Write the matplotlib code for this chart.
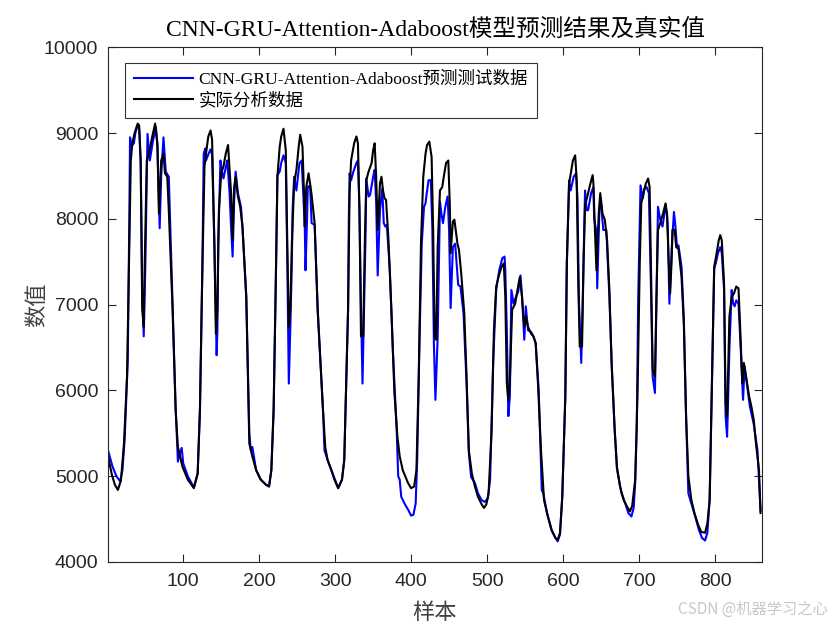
import matplotlib
matplotlib.use("Agg")
from matplotlib import pyplot as plt

# 实际分析数据 (black)
true_x = [1, 6, 10, 14, 18, 22, 26, 29, 31, 33, 36, 40, 42, 44, 46, 48, 49, 52, 55, 59, 63, 66, 68, 71, 74, 76, 79, 81,
          86, 90, 93, 99, 106, 114, 119, 122, 125, 128, 130, 133, 136, 138, 141, 143, 145, 147, 150, 153, 156, 159,
          163, 165, 167, 169, 172, 175, 178, 183, 187, 191, 196, 202, 209, 213, 216, 219, 222, 224, 227, 229, 232,
          235, 237, 239, 241, 243, 246, 249, 252, 254, 257, 259, 260, 262, 265, 267, 269, 273, 277, 284, 287, 290,
          295, 299, 304, 309, 312, 317, 319, 321, 325, 328, 330, 332, 334, 337, 339, 341, 344, 348, 350, 352, 354,
          356, 359, 361, 363, 365, 367, 370, 374, 378, 382, 385, 389, 396, 400, 404, 407, 410, 413, 416, 419, 421,
          424, 427, 429, 431, 433, 435, 438, 441, 443, 446, 449, 451, 452, 455, 457, 461, 463, 466, 470, 473, 476,
          480, 484, 488, 493, 496, 499, 502, 506, 509, 512, 515, 519, 522, 524, 526, 528, 530, 533, 537, 540, 543,
          546, 549, 551, 554, 558, 561, 564, 567, 571, 575, 580, 585, 590, 593, 596, 599, 603, 605, 608, 611, 613,
          616, 618, 620, 622, 625, 627, 629, 632, 636, 639, 640, 642, 644, 647, 649, 652, 655, 658, 661, 664, 668,
          671, 675, 680, 684, 688, 691, 695, 698, 701, 703, 706, 709, 712, 714, 716, 718, 721, 723, 725, 728, 731,
          735, 737, 739, 741, 743, 744, 747, 749, 752, 756, 759, 762, 765, 769, 773, 778, 782, 787, 790, 793, 796,
          799, 803, 805, 807, 809, 812, 814, 816, 819, 822, 825, 828, 831, 833, 836, 838, 841, 845, 848, 851, 854,
          858, 860]
true_y = [5230, 5020, 4900, 4840, 4950, 5380, 6160, 7710, 8680, 8880, 9000, 9110, 9090, 8680, 6940, 6740, 7330, 8680,
          8760, 8950, 9110, 8880, 8060, 8680, 8760, 8530, 8490, 8100, 6940, 5770, 5340, 5110, 4960, 4860, 5030, 5770,
          7330, 8610, 8760, 8960, 9030, 8920, 7710, 6660, 6940, 8100, 8530, 8610, 8760, 8860, 8300, 7750, 8370, 8490,
          8260, 8140, 7910, 7090, 5380, 5230, 5070, 4960, 4900, 4880, 5070, 5770, 7330, 8490, 8840, 8960, 9050, 8800,
          7710, 6740, 6940, 7710, 8410, 8570, 8840, 8980, 8840, 8300, 7910, 8370, 8530, 8410, 8280, 7950, 6940, 5770,
          5340, 5190, 5070, 4960, 4860, 4960, 5190, 6940, 8300, 8680, 8880, 8960, 8880, 8100, 6630, 6630, 7710, 8450,
          8550, 8650, 8800, 8880, 8490, 7870, 8410, 8490, 8330, 8240, 8220, 7790, 6940, 5970, 5460, 5230, 5070, 4920,
          4860, 4880, 5070, 6160, 7710, 8490, 8760, 8860, 8900, 8720, 7870, 6630, 6590, 7670, 8330, 8370, 8490, 8650,
          8680, 8140, 7600, 7970, 7990, 7710, 7640, 7360, 6900, 6160, 5300, 5030, 4880, 4760, 4670, 4630, 4670, 4800,
          5540, 6700, 7210, 7320, 7440, 7480, 7100, 6080, 5880, 6120, 6940, 7010, 7170, 7320, 7090, 6740, 6860, 6740,
          6660, 6630, 6550, 6080, 5300, 4720, 4530, 4370, 4280, 4260, 4340, 4760, 5930, 7480, 8410, 8570, 8680, 8740,
          8450, 7290, 6510, 6510, 7480, 8160, 8260, 8410, 8510, 8410, 7870, 7400, 8060, 8300, 8060, 7990, 7750, 7170,
          6320, 5540, 5110, 4880, 4720, 4650, 4590, 4650, 4960, 5930, 7480, 8180, 8300, 8410, 8470, 8370, 7290, 6240,
          6160, 7090, 7870, 7950, 8040, 8180, 8020, 7520, 7130, 7520, 7870, 7870, 7670, 7650, 7320, 6780, 5690, 5000,
          4720, 4570, 4430, 4350, 4340, 4450, 4720, 6080, 7440, 7640, 7750, 7810, 7750, 7250, 5850, 5690, 6860, 7090,
          7130, 7210, 7190, 6780, 6080, 6320, 6160, 5930, 5810, 5660, 5380, 5070, 4570]

# CNN-GRU-Attention-Adaboost预测测试数据 (blue)
pred_x = [1, 7, 12, 17, 20, 23, 27, 29, 30, 32, 35, 37, 40, 42, 44, 46, 48, 50, 53, 56, 60, 64, 66, 69, 71, 74, 77, 79,
          81, 86, 90, 93, 95, 98, 100, 106, 114, 119, 122, 125, 127, 129, 130, 133, 136, 138, 141, 143, 144, 145, 146,
          149, 151, 153, 156, 158, 161, 163, 165, 167, 169, 172, 174, 176, 178, 183, 187, 189, 191, 196, 202, 209,
          213, 216, 219, 222, 224, 227, 229, 232, 235, 237, 239, 241, 243, 244, 246, 249, 253, 256, 258, 260, 261,
          263, 264, 267, 269, 273, 277, 284, 286, 290, 295, 299, 304, 309, 312, 317, 318, 319, 321, 324, 328, 330,
          332, 334, 336, 338, 340, 341, 344, 346, 350, 352, 354, 355, 356, 359, 362, 364, 366, 368, 372, 376, 381,
          383, 385, 387, 392, 396, 400, 403, 406, 408, 411, 414, 417, 419, 420, 423, 426, 428, 430, 432, 435, 438,
          440, 442, 445, 448, 450, 452, 455, 458, 462, 465, 469, 473, 476, 479, 484, 488, 493, 497, 501, 504, 508,
          512, 516, 520, 523, 524, 526, 528, 530, 532, 535, 538, 541, 544, 546, 549, 551, 554, 558, 561, 564, 568,
          572, 574, 579, 585, 590, 593, 596, 599, 603, 605, 608, 610, 614, 617, 619, 621, 624, 626, 629, 631, 633,
          637, 640, 641, 644, 645, 648, 650, 653, 657, 661, 664, 668, 671, 677, 682, 686, 690, 693, 695, 697, 699,
          702, 705, 707, 710, 713, 716, 718, 721, 723, 725, 728, 731, 735, 737, 738, 740, 743, 746, 748, 750, 752,
          756, 759, 762, 765, 770, 774, 779, 783, 787, 790, 793, 796, 799, 801, 804, 807, 809, 812, 814, 816, 819,
          822, 824, 826, 828, 831, 834, 837, 839, 842, 846, 851, 856, 860]
pred_y = [5300, 5110, 5000, 4940, 5070, 5450, 6350, 8000, 8950, 8850, 8880, 9000, 9090, 9050, 8650, 7200, 6630, 7400,
          8990, 8680, 8900, 9070, 8850, 7890, 8500, 8950, 8550, 8520, 8490, 7000, 5800, 5170, 5250, 5330, 5150, 5000,
          4870, 5030, 5770, 7330, 8760, 8820, 8680, 8750, 8810, 8750, 7700, 6800, 6410, 6700, 7700, 8680, 8550, 8470,
          8600, 8680, 8300, 7900, 7560, 8200, 8550, 8300, 8220, 8140, 7900, 7090, 5500, 5300, 5340, 5070, 4960, 4900,
          4880, 5070, 5770, 7330, 8510, 8550, 8650, 8740, 8650, 7520, 6080, 6740, 7500, 8100, 8490, 8330, 8650, 8680,
          8300, 7910, 7400, 8000, 8370, 8390, 7950, 7930, 6940, 5770, 5300, 5190, 5070, 4980, 4860, 4960, 5190, 6940,
          8000, 8530, 8450, 8550, 8650, 8680, 8100, 7000, 6080, 6940, 7800, 8470, 8260, 8280, 8490, 8570, 8200, 7790,
          7340, 8100, 8350, 7950, 7910, 7930, 7400, 6470, 5540, 5000, 4960, 4760, 4670, 4610, 4540, 4550, 4680, 5190,
          6550, 7710, 8140, 8180, 8260, 8450, 8450, 7870, 6550, 5890, 6630, 8200, 8050, 7950, 8140, 8260, 7870, 6960,
          7670, 7710, 7230, 7210, 6900, 6080, 5270, 4990, 4920, 4800, 4720, 4700, 4740, 4960, 6320, 7170, 7400, 7540,
          7560, 7400, 6700, 5700, 5930, 7170, 7010, 7090, 7150, 7340, 7100, 6590, 6980, 6700, 6680, 6630, 6550, 6000,
          4840, 4800, 4570, 4370, 4280, 4240, 4320, 4760, 5930, 7480, 8450, 8330, 8490, 8530, 8260, 7010, 6320, 7090,
          8330, 8100, 8100, 8300, 8370, 8000, 7850, 7190, 8140, 8180, 7870, 7870, 7100, 6300, 5540, 5080, 4800, 4680,
          4570, 4530, 4630, 4930, 5540, 7090, 8390, 8240, 8350, 8370, 8300, 7090, 6160, 5970, 7090, 8140, 7990, 7910,
          8160, 8050, 7870, 7010, 7640, 8080, 7910, 7670, 7690, 7440, 6850, 5690, 4800, 4650, 4530, 4370, 4280, 4250,
          4340, 4720, 6080, 7420, 7480, 7600, 7670, 7600, 7170, 5700, 5460, 6470, 7170, 7010, 6980, 7050, 7010, 6470,
          5890, 6280, 6080, 5810, 5610, 5300, 4600]

title_text = "CNN-GRU-Attention-Adaboost模型预测结果及真实值"
legend_labels = ["CNN-GRU-Attention-Adaboost预测测试数据", "实际分析数据"]
serif_cjk = ["Liberation Serif", "Noto Sans CJK SC"]

fig = plt.figure(figsize=(8.4, 6.3), dpi=100)
ax = fig.add_axes([0.1286, 0.108, 0.7786, 0.817])

ax.plot(pred_x, pred_y, color="#0000ff", linewidth=1.5, label=legend_labels[0])
ax.plot(true_x, true_y, color="black", linewidth=1.5, label=legend_labels[1])

ax.set_xlim(1, 862)
ax.set_ylim(4000, 10000)
ax.set_xticks(range(100, 900, 100))
ax.set_yticks(range(4000, 10001, 1000))
ax.tick_params(direction="in", top=True, right=True, length=6, width=0.8,
               labelsize=14, colors="#262626")
ax.tick_params(axis="x", pad=8)
ax.tick_params(axis="y", pad=7)
for lab in ax.get_xticklabels() + ax.get_yticklabels():
    lab.set_fontfamily("Liberation Sans")
for sp in ax.spines.values():
    sp.set_linewidth(0.8)
    sp.set_color("#262626")

ax.set_title(title_text, family=serif_cjk, fontsize=17, pad=8)
ax.set_xlabel("样本", family=serif_cjk, fontsize=16, labelpad=10, color="#404040")
ax.set_ylabel("数值", family=serif_cjk, fontsize=16, labelpad=-3, color="#404040")

leg = ax.legend(loc="upper left", bbox_to_anchor=(0.026, 0.969), borderaxespad=0,
                prop={"family": serif_cjk, "size": 12.6},
                frameon=True, fancybox=False, edgecolor="black", handlelength=3.4,
                borderpad=0.5, labelspacing=0.25, handletextpad=0.3)
leg.get_frame().set_linewidth(0.8)

fig.text(0.985, 0.02, "CSDN @机器学习之心", ha="right", va="bottom", fontsize=11,
         color="#c8c8c8", family=["Noto Sans CJK SC", "DejaVu Sans"])

plt.savefig("out.png", dpi=100)
